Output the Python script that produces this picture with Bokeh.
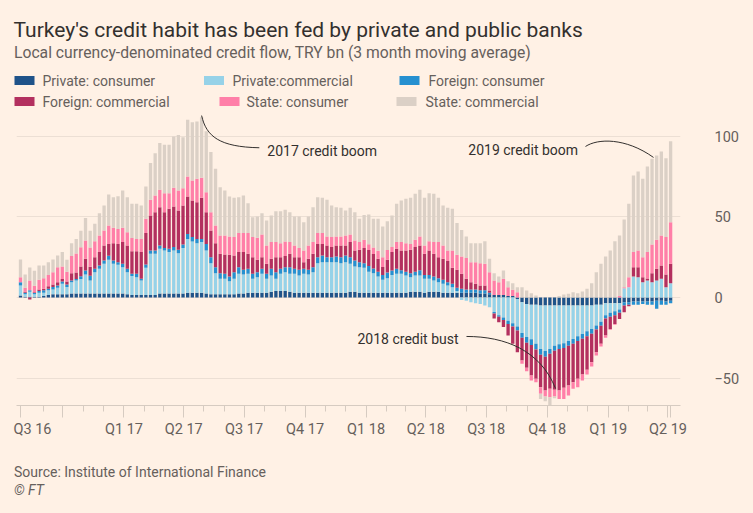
import datetime as dt
from bokeh.plotting import figure
from bokeh.layouts import column, row
from bokeh.models import Range1d, FixedTicker, Spacer
from bokeh.embed import file_html
from bokeh.resources import INLINE
from bokeh.core.properties import value

# ---------------- data (TRY bn, 3m moving average, weekly) ----------------
START = dt.date(2016, 7, 29)
N_WEEKS = 141
week_dates = [START + dt.timedelta(weeks=i) for i in range(N_WEEKS)]

private_consumer = [
    1.2, 0.5, 0.5, 0.5, 0.5, 1.0, 1.5, 2.0, 2.0, 2.0,
    2.0, 2.5, 2.5, 2.5, 2.5, 2.5, 2.5, 2.5, 2.5, 2.5,
    2.5, 2.5, 2.5, 2.0, 1.5, 1.5, 1.5, 1.5, 1.5, 1.5,
    2.5, 2.5, 2.5, 2.5, 2.5, 2.5, 3.0, 3.0, 3.0, 3.0,
    2.5, 2.0, 2.0, 2.0, 2.0, 2.0, 2.0, 2.5, 2.5, 3.0,
    3.0, 3.0, 3.0, 3.0, 3.5, 4.0, 4.0, 4.0, 3.5, 3.0,
    3.0, 3.0, 3.0, 3.0, 3.0, 3.0, 3.0, 3.0, 3.0, 3.0,
    3.0, 3.5, 3.5, 3.0, 3.0, 3.0, 3.0, 3.0, 3.0, 3.0,
    3.0, 3.0, 3.0, 3.0, 3.5, 3.5, 3.5, 3.0, 3.5, 3.5,
    3.5, 3.0, 3.0, 3.0, 3.0, 3.0, 3.0, 3.0, 3.0, 2.5,
    2.5, 2.0, 1.5, 1.5, 1.5, 1.0, 1.0, -1.0, -3.0, -4.0,
    -4.5, -4.5, -5.0, -5.0, -5.0, -5.0, -5.0, -5.0, -5.0, -5.0,
    -5.0, -5.0, -5.0, -5.0, -4.5, -4.5, -3.5, -3.5, -3.5, -3.5,
    -3.0, -3.0, -2.5, -2.5, -2.5, -2.5, -2.5, -2.0, -2.0, -2.5, -2.0]

private_commercial = [
    6.3, 1.5, 3.0, 1.5, 2.5, 2.0, 3.0, 3.0, 4.0, 6.5,
    4.5, 7.0, 8.0, 9.0, 11.8, 8.0, 13.2, 15.3, 18.4, 20.9,
    18.4, 17.8, 16.3, 13.7, 11.8, 11.1, 9.1, 16.9, 25.6, 25.6,
    27.7, 26.7, 25.7, 26.7, 25.0, 28.3, 33.4, 31.8, 30.7, 31.4,
    26.7, 19.3, 13.1, 9.6, 9.6, 8.1, 9.6, 12.2, 11.8, 11.7,
    8.6, 9.6, 11.7, 8.6, 10.2, 7.6, 10.7, 11.7, 11.2, 11.7,
    10.7, 11.7, 11.3, 12.7, 18.3, 18.9, 18.9, 18.9, 18.9, 18.3,
    18.9, 17.4, 15.8, 15.8, 15.4, 13.0, 12.0, 10.0, 8.0, 9.0,
    11.0, 11.7, 11.7, 10.7, 9.1, 10.2, 10.2, 8.6, 8.1, 7.1,
    6.0, 5.5, 4.5, 3.4, 1.0, -1.5, -2.0, -3.0, -3.5, -4.0,
    -5.0, -6.0, -9.0, -11.0, -12.5, -14.5, -16.0, -17.0, -19.0, -20.6,
    -21.5, -24.3, -27.0, -28.3, -27.0, -25.0, -24.0, -23.4, -22.0, -20.7,
    -19.0, -17.6, -16.0, -14.5, -12.9, -10.5, -7.5, -6.0, -5.0, -4.0,
    5.8, 6.4, 13.0, 12.6, 9.5, 10.6, 9.5, 10.6, 11.6, 6.4, 8.9]

foreign_consumer = [
    2.0, 1.0, 1.0, 0.8, 1.0, 1.5, 1.0, 1.5, 1.5, 1.5,
    1.5, 1.1, 1.0, 1.7, 2.5, 3.0, 2.1, 2.1, 2.1, 2.6,
    2.1, 1.6, 2.1, 2.1, 1.4, 2.1, 1.0, 2.1, 2.1, 2.1,
    2.1, 1.6, 2.0, 2.1, 2.1, 2.1, 3.1, 2.7, 2.7, 2.0,
    4.1, 3.7, 3.7, 3.5, 3.1, 2.9, 4.1, 4.1, 2.9, 3.1,
    3.1, 3.1, 3.1, 3.1, 4.1, 4.1, 3.1, 3.1, 4.1, 3.1,
    3.5, 3.1, 2.9, 3.1, 3.7, 4.2, 3.1, 3.1, 3.6, 3.7,
    4.2, 4.1, 3.7, 3.1, 2.9, 3.5, 3.0, 3.0, 3.0, 3.5,
    2.8, 3.1, 2.3, 2.3, 2.4, 2.3, 3.3, 2.4, 2.4, 2.4,
    2.5, 2.5, 2.0, 2.1, 2.0, 2.5, 2.0, 2.0, 2.0, 2.0,
    2.0, 1.0, -1.0, -1.0, -1.5, -2.0, -2.0, -2.5, -3.0, -3.5,
    -3.5, -3.5, -3.5, -3.5, -3.0, -3.0, -3.0, -3.0, -3.0, -3.0,
    -3.0, -3.0, -3.0, -3.0, -2.5, -2.5, -2.0, -2.5, -2.5, -2.0,
    -2.0, -1.5, -2.0, -2.0, -1.5, -2.0, -2.0, -5.0, -2.5, -2.0, -1.5]

foreign_commercial = [
    0.0, 0.5, -1.2, 0.5, 1.0, 1.0, 1.5, 1.5, 2.0, 1.5,
    2.0, 4.4, 4.1, 6.0, 7.2, 5.6, 7.2, 8.3, 9.3, 7.3,
    10.7, 11.4, 13.5, 14.5, 14.1, 14.1, 16.6, 19.5, 21.8, 23.8,
    23.8, 22.2, 24.9, 25.2, 24.4, 24.2, 23.2, 22.7, 22.8, 25.5,
    19.7, 16.6, 14.9, 12.0, 12.0, 13.5, 10.4, 9.4, 11.0, 9.3,
    10.3, 7.7, 7.2, 6.2, 6.2, 9.3, 7.2, 6.9, 8.3, 7.2,
    7.8, 4.1, 6.8, 8.3, 8.3, 7.2, 7.3, 6.3, 6.8, 7.3,
    6.2, 9.4, 6.2, 7.7, 9.5, 10.0, 9.0, 8.0, 5.0, 8.0,
    11.4, 12.4, 12.2, 13.2, 14.6, 15.3, 15.3, 13.1, 15.2, 14.1,
    13.0, 13.0, 13.1, 9.9, 11.3, 9.2, 6.6, 4.5, 3.5, 3.0,
    3.0, 1.3, -3.0, -3.3, -4.4, -7.1, -10.8, -13.5, -14.1, -15.6,
    -18.9, -18.2, -20.2, -21.0, -21.7, -24.3, -25.8, -24.7, -24.7, -23.9,
    -23.5, -22.2, -20.9, -17.7, -14.1, -11.3, -10.6, -7.5, -5.4, -3.8,
    -4.1, -1.0, 5.8, 6.2, 3.1, 1.2, 5.6, 7.2, 8.3, 7.9, 12.0]

state_consumer = [
    3.1, 2.5, 6.0, 4.0, 6.0, 6.5, 7.0, 7.7, 9.3, 7.8,
    6.0, 10.7, 11.8, 12.0, 11.4, 12.0, 10.0, 10.3, 9.3, 11.4,
    9.6, 9.3, 8.9, 8.3, 8.2, 7.6, 8.2, 8.9, 9.7, 10.4,
    10.8, 11.8, 9.7, 11.6, 12.5, 10.8, 12.5, 12.5, 14.5, 12.4,
    12.4, 11.4, 11.0, 11.4, 11.8, 11.4, 11.4, 11.8, 11.8, 12.9,
    12.5, 13.7, 14.1, 11.4, 10.4, 9.4, 8.7, 9.1, 7.3, 7.3,
    5.8, 7.3, 8.3, 7.3, 6.7, 6.7, 5.6, 6.2, 5.6, 5.6,
    6.2, 4.7, 6.2, 4.8, 5.0, 3.5, 4.0, 5.0, 6.0, 6.0,
    3.1, 4.2, 5.2, 4.5, 3.7, 4.5, 5.6, 5.2, 5.8, 7.3,
    9.4, 8.3, 6.6, 10.8, 9.3, 10.8, 13.0, 12.4, 13.4, 13.8,
    13.4, 11.4, 9.1, 8.0, 10.1, 5.4, 3.8, 3.3, -2.0, -2.1,
    -3.2, -2.1, -4.1, -3.7, -5.2, -4.2, -5.2, -6.9, -6.2, -4.1,
    -5.2, -3.8, -2.9, -2.7, -2.0, -1.6, -1.4, -0.5, -0.5, 1.0,
    0.5, 6.2, 9.4, 10.4, 12.4, 16.4, 17.8, 18.0, 18.6, 23.2, 25.9]

state_commercial = [
    11.0, 8.3, 8.2, 9.3, 8.9, 7.9, 7.9, 7.9, 7.3, 8.9,
    7.4, 8.0, 8.9, 10.3, 13.9, 10.3, 10.8, 13.9, 15.5, 19.3,
    19.0, 20.3, 23.2, 21.7, 21.2, 21.8, 20.7, 20.0, 22.9, 26.2,
    29.0, 30.0, 30.0, 31.9, 34.5, 31.7, 35.2, 36.2, 35.6, 37.7,
    37.9, 37.3, 35.2, 30.0, 28.0, 24.8, 24.4, 22.3, 23.4, 18.6,
    12.4, 13.2, 13.3, 15.5, 16.5, 19.2, 19.9, 19.7, 18.6, 18.0,
    19.5, 17.6, 18.0, 21.7, 22.3, 21.9, 22.8, 19.6, 18.2, 17.8,
    15.5, 16.6, 17.6, 14.5, 15.5, 18.6, 17.9, 19.9, 19.1, 17.9,
    19.6, 23.8, 25.8, 27.6, 28.6, 28.6, 29.0, 29.6, 29.8, 30.0,
    27.5, 24.8, 26.5, 25.9, 19.7, 16.5, 13.3, 11.8, 11.8, 12.4,
    14.1, 8.3, 4.5, 3.5, 5.2, 3.7, 4.1, 3.1, 6.4, 4.3,
    2.7, 1.2, -3.2, -2.9, -5.0, -1.0, 1.0, 1.9, 2.3, 3.3,
    2.7, 3.7, 5.4, 8.9, 15.7, 20.9, 25.5, 29.2, 35.0, 37.5,
    42.1, 45.6, 47.6, 49.1, 48.7, 53.2, 53.2, 52.4, 52.2, 49.0, 50.3]

series_names = ["Private: consumer", "Private:commercial", "Foreign: consumer",
                "Foreign: commercial", "State: consumer", "State: commercial"]
series_values = [private_consumer, private_commercial, foreign_consumer,
                 foreign_commercial, state_consumer, state_commercial]
series_colors = ["#1f5389", "#96d2e8", "#2690d0", "#b3305f", "#ff7fa8", "#dbd0c6"]

# axis ticks
quarter_dates = [dt.date(2016, 10, 1), dt.date(2017, 1, 1), dt.date(2017, 4, 1), dt.date(2017, 7, 1),
                 dt.date(2017, 10, 1), dt.date(2018, 1, 1), dt.date(2018, 4, 1), dt.date(2018, 7, 1),
                 dt.date(2018, 10, 1), dt.date(2019, 1, 1), dt.date(2019, 4, 1)]
quarter_labels = ["", "Q1 17", "Q2 17", "Q3 17", "Q4 17", "Q1 18", "Q2 18", "Q3 18",
                  "Q4 18", "Q1 19", "Q2 19"]
first_label = "Q3 16"
y_ticks = [-50, 0, 50, 100]

annotations = [
    ("2017 credit boom", dt.date(2017, 8, 5), 91.3),
    ("2019 credit boom", dt.date(2018, 6, 4), 91.9),
    ("2018 credit bust", dt.date(2017, 12, 19), -25.5),
]

# ---------------- styling ----------------
BG = "#fff1e5"
FONT = "Roboto"
DARK = "#33302e"
GREY = "#66605c"
W = 750


def day(d):
    return (d - START).days


xs = [day(d) for d in week_dates]


def blank(fig):
    fig.axis.visible = False
    fig.grid.visible = False


# ---------------- header (pixel coordinates) ----------------
HH = 112
head = figure(width=W, height=HH, x_range=Range1d(0, W), y_range=Range1d(HH, 0),
              output_backend="svg", toolbar_location=None,
              min_border=0, min_border_left=0, min_border_right=0, min_border_top=0, min_border_bottom=0,
              background_fill_color=BG, border_fill_color=BG, outline_line_color=None)
blank(head)
head.text(x=[13], y=[29], text=["Turkey's credit habit has been fed by private and public banks"],
          text_font=value(FONT), text_font_size=value("21px"), text_color=DARK,
          text_baseline="alphabetic", text_align="left")
head.text(x=[13.5], y=[52], text=["Local currency-denominated credit flow, TRY bn (3 month moving average)"],
          text_font=value(FONT), text_font_size=value("15.7px"), text_color=GREY,
          text_baseline="alphabetic", text_align="left")
leg_sw_x = [24, 213.5, 409, 24, 229, 406]
leg_tx_x = [42, 232, 428, 42, 246, 425]
leg_y = [80, 80, 80, 101, 101, 101]
head.rect(x=leg_sw_x, y=leg_y, width=20, height=9, fill_color=series_colors, line_color=None)
head.text(x=leg_tx_x, y=leg_y, text=series_names, text_font=value(FONT),
          text_font_size=value("14px"), text_color=GREY, text_baseline="middle", text_align="left")

# ---------------- main chart ----------------
p = figure(width=737, height=330,
           x_range=Range1d(-6.03, 994.9), y_range=Range1d(-67.08, 113.66),
           output_backend="svg", toolbar_location=None, y_axis_location="right",
           min_border_left=3, min_border_right=70, min_border_top=2, min_border_bottom=37,
           background_fill_color=BG, border_fill_color=BG, outline_line_color=None)

pos = [0.0] * N_WEEKS
neg = [0.0] * N_WEEKS
for name, vals, color in zip(series_names, series_values, series_colors):
    bottoms, tops = [], []
    for k, v in enumerate(vals):
        if v >= 0:
            b = pos[k]; t = b + v; pos[k] = t
        else:
            b = neg[k]; t = b + v; neg[k] = t
        bottoms.append(b); tops.append(t)
    p.vbar(x=xs, bottom=bottoms, top=tops, width=5.0, fill_color=color, line_color=None)

# x axis
major = [0] + [day(d) for d in quarter_dates] + [xs[-1]]
labels = [first_label] + quarter_labels + [""]
minor = []
for yr in (2016, 2017, 2018, 2019):
    for m in range(1, 13):
        d = dt.date(yr, m, 1)
        if dt.date(2016, 8, 15) < d < dt.date(2019, 4, 1) and m not in (1, 4, 7, 10):
            minor.append(day(d))
p.xaxis.ticker = FixedTicker(ticks=major, minor_ticks=minor)
p.xaxis.major_label_overrides = {t: l for t, l in zip(major, labels)}
p.xaxis.axis_line_color = "#d6cbc1"
p.xaxis.major_tick_line_color = "#d6cbc1"
p.xaxis.minor_tick_line_color = "#d6cbc1"
p.xaxis.major_tick_out = 12
p.xaxis.major_tick_in = 0
p.xaxis.minor_tick_out = 6
p.xaxis.minor_tick_in = 0
p.xaxis.major_label_standoff = 3
p.xaxis.major_label_text_font = FONT
p.xaxis.major_label_text_font_size = "14.5px"
p.xaxis.major_label_text_color = GREY

# y axis (right)
p.yaxis.ticker = FixedTicker(ticks=y_ticks)
p.yaxis.axis_line_color = None
p.yaxis.major_tick_line_color = None
p.yaxis.minor_tick_line_color = None
p.yaxis.major_label_standoff = 28
p.yaxis.major_label_text_align = "right"
p.yaxis.major_label_text_font = FONT
p.yaxis.major_label_text_font_size = "14.5px"
p.yaxis.major_label_text_color = GREY
p.xgrid.visible = False
p.ygrid.ticker = FixedTicker(ticks=y_ticks)
p.ygrid.grid_line_color = "#ecdfd4"
p.ygrid.level = "underlay"

# annotations
for txt, d, yv in annotations:
    p.text(x=[day(d)], y=[yv], text=[txt], text_font=value(FONT), text_font_size=value("14px"),
           text_color=DARK, text_baseline="middle", text_align="left")
p.bezier(x0=[273, 851.7, 672.3], y0=[113, 93.8, -24.2],
         x1=[360, 954.2, 806.5], y1=[93, 87.0, -56.5],
         cx0=[280, 869.8, 731], cy0=[100, 98.8, -24.2],
         cx1=[300, 912, 783.8], cy1=[93.5, 99.4, -32.9],
         line_color=DARK, line_width=1)

# ---------------- footer (pixel coordinates) ----------------
FH = 68
foot = figure(width=W, height=FH, x_range=Range1d(0, W), y_range=Range1d(FH, 0),
              output_backend="svg", toolbar_location=None,
              min_border=0, min_border_left=0, min_border_right=0, min_border_top=0, min_border_bottom=0,
              background_fill_color=BG, border_fill_color=BG, outline_line_color=None)
blank(foot)
foot.text(x=[13.5], y=[29.5], text=["Source: Institute of International Finance"], text_font=value(FONT),
          text_font_size=value("14px"), text_color=GREY, text_baseline="alphabetic", text_align="left")
foot.text(x=[13.5], y=[47.5], text=["© FT"], text_font=value(FONT), text_font_style="italic",
          text_font_size=value("14px"), text_color=GREY, text_baseline="alphabetic", text_align="left")

layout = column(head, row(Spacer(width=13, height=330), p, spacing=0), foot, spacing=0)
html = file_html(layout, INLINE, title="Turkey credit")
html = html.replace("</head>", "<style>html,body{background:#fff1e5;}</style></head>", 1)
with open("out.html", "w") as f:
    f.write(html)
